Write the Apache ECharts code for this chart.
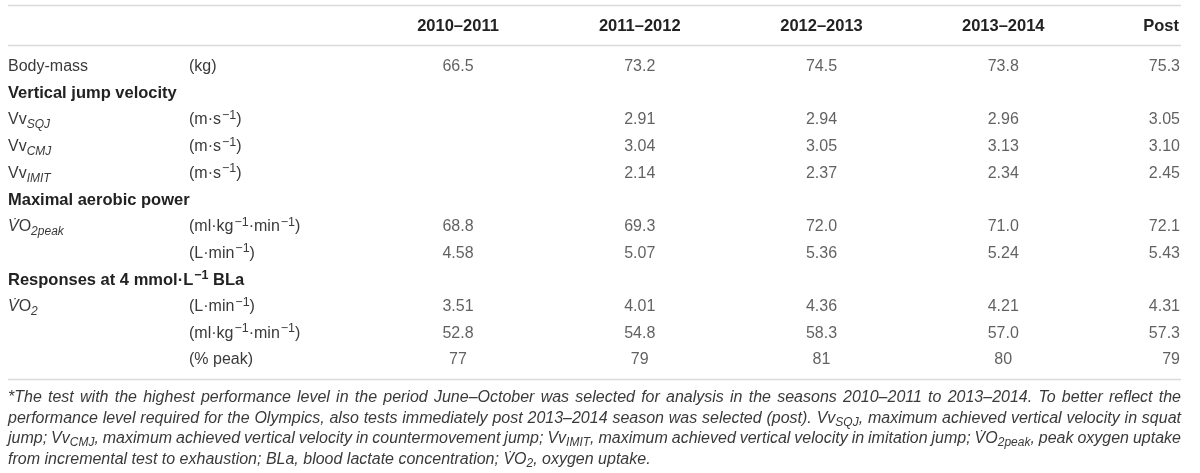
<!DOCTYPE html>
<html><head><meta charset="utf-8">
<script src="https://cdn.jsdelivr.net/npm/echarts@6/dist/echarts.min.js"></script>
<style>html,body{margin:0;padding:0;background:#fff}#c{width:1200px;height:473px}</style>
</head><body><div id="c"></div>
<script>
// ---------- data ----------
const columns = ['2010–2011', '2011–2012', '2012–2013', '2013–2014', 'Post'];
const rowKeys = ['bm', 'vjv', 'sqj', 'cmj', 'imit', 'map', 'peakRel', 'peakAbs', 'resp', 'atAbs', 'atRel', 'atPct'];
const rowLabels = [
  '{n|Body-mass}',
  '{b|Vertical jump velocity}',
  '{n|Vv}{s|SQJ}',
  '{n|Vv}{s|CMJ}',
  '{n|Vv}{s|IMIT}',
  '{b|Maximal aerobic power}',
  '{i|V\u0307}{n|O}{s|2peak}',
  '',
  '{b|Responses at 4 mmol·L}{bsup|−1}{b| BLa}',
  '{i|V\u0307}{n|O}{s|2}',
  '',
  ''
];
const rowUnits = [
  '{n|(kg)}',
  '',
  '{n|(m·s}{sup|−1}{n|)}',
  '{n|(m·s}{sup|−1}{n|)}',
  '{n|(m·s}{sup|−1}{n|)}',
  '',
  '{n|(ml·kg}{sup|−1}{n|·min}{sup|−1}{n|)}',
  '{n|(L·min}{sup|−1}{n|)}',
  '',
  '{n|(L·min}{sup|−1}{n|)}',
  '{n|(ml·kg}{sup|−1}{n|·min}{sup|−1}{n|)}',
  '{n|(% peak)}'
];
const bodyMass   = [66.5, 73.2, 74.5, 73.8, 75.3];
const vvSQJ      = [null, 2.91, 2.94, 2.96, 3.05];
const vvCMJ      = [null, 3.04, 3.05, 3.13, 3.10];
const vvIMIT     = [null, 2.14, 2.37, 2.34, 2.45];
const vo2peakRel = [68.8, 69.3, 72.0, 71.0, 72.1];
const vo2peakAbs = [4.58, 5.07, 5.36, 5.24, 5.43];
const vo2At4Abs  = [3.51, 4.01, 4.36, 4.21, 4.31];
const vo2At4Rel  = [52.8, 54.8, 58.3, 57.0, 57.3];
const vo2At4Pct  = [77, 79, 81, 80, 79];
const rowValues   = [bodyMass, null, vvSQJ, vvCMJ, vvIMIT, null, vo2peakRel, vo2peakAbs, null, vo2At4Abs, vo2At4Rel, vo2At4Pct];
const rowDecimals = [1, 0, 2, 2, 2, 0, 1, 2, 0, 2, 1, 0];
const footnoteLines = [
  '*The test with the highest performance level in the period June–October was selected for analysis in the seasons 2010–2011 to 2013–2014. To better reflect the',
  'performance level required for the Olympics, also tests immediately post 2013–2014 season was selected (post). Vv_{SQJ}, maximum achieved vertical velocity in squat',
  'jump; Vv_{CMJ}, maximum achieved vertical velocity in countermovement jump; Vv_{IMIT}, maximum achieved vertical velocity in imitation jump; V\u0307O_{2peak}, peak oxygen uptake',
  'from incremental test to exhaustion; BLa, blood lactate concentration; V\u0307O_{2}, oxygen uptake.'
];

// ---------- styles / layout ----------
const FONT = '"Liberation Sans", Arial, Helvetica, sans-serif';
const TXT = '#3a3a3a';
const BOLD = '#222';
const RULE = '#dadada';
const L_EDGE = 8, R_EDGE = 1181;
const GRID = { left: 458, right: 15, top: 66.7, bottom: 113 };

const labelRich = {
  n:    { fontSize: 16, color: TXT, fontFamily: FONT, lineHeight: 22 },
  b:    { fontSize: 16.5, color: BOLD, fontWeight: 'bold', fontFamily: FONT, lineHeight: 22 },
  i:    { fontSize: 16, color: TXT, fontStyle: 'italic', fontFamily: FONT, lineHeight: 22 },
  s:    { fontSize: 12, color: TXT, fontStyle: 'italic', fontFamily: FONT, lineHeight: 12, verticalAlign: 'bottom' },
  sup:  { fontSize: 12.5, color: TXT, fontFamily: FONT, lineHeight: 16, verticalAlign: 'top', padding: [0, 0, 0, 1] },
  bsup: { fontSize: 12.5, color: BOLD, fontWeight: 'bold', fontFamily: FONT, lineHeight: 16, verticalAlign: 'top', padding: [0, 0, 0, 1] }
};

// cells
const cellData = [];
rowValues.forEach((arr, r) => {
  if (!arr) return;
  arr.forEach((v, c) => {
    if (v === null || v === undefined) return;
    const item = { name: v.toFixed(rowDecimals[r]), value: [c, r] };
    if (c === columns.length - 1) item.label = { align: 'right', offset: [-5, 0] };
    cellData.push(item);
  });
});

// footnote (justified)
const FOOT_SIZE = 16, FOOT_SUB = 12;
const cv = document.createElement('canvas').getContext('2d');
function mw(t, size) { cv.font = 'italic normal ' + size + 'px ' + FONT; return cv.measureText(t).width; }
function parseWord(w) {
  const segs = []; const re = /_\{([^}]*)\}/g; let last = 0, m;
  while ((m = re.exec(w))) {
    if (m.index > last) segs.push({ t: w.slice(last, m.index), sub: false });
    segs.push({ t: m[1], sub: true }); last = re.lastIndex;
  }
  if (last < w.length) segs.push({ t: w.slice(last), sub: false });
  return segs;
}
const footRich = {
  f:  { fontSize: FOOT_SIZE, fontStyle: 'italic', fontFamily: FONT, fill: TXT, lineHeight: 20 },
  fs: { fontSize: FOOT_SUB, fontStyle: 'italic', fontFamily: FONT, fill: TXT, lineHeight: 12, verticalAlign: 'bottom' }
};
const graphics = [];
[5.5, 45.5, 379.5].forEach(y => graphics.push({
  type: 'line', silent: true,
  shape: { x1: L_EDGE, y1: y, x2: R_EDGE, y2: y },
  style: { stroke: RULE, lineWidth: 1.5 }
}));
footnoteLines.forEach((line, li) => {
  const y = 397.5 + li * 20.7;
  const words = line.split(' ').map(parseWord);
  const widths = words.map(segs => segs.reduce((s, g) => s + mw(g.t, g.sub ? FOOT_SUB : FOOT_SIZE), 0));
  const total = widths.reduce((a, b) => a + b, 0);
  const justify = li < footnoteLines.length - 1;
  const gap = justify ? (R_EDGE - L_EDGE - total) / (words.length - 1) : mw(' ', FOOT_SIZE);
  let x = L_EDGE;
  words.forEach((segs, wi) => {
    const txt = segs.map(g => '{' + (g.sub ? 'fs' : 'f') + '|' + g.t + '}').join('');
    graphics.push({
      type: 'text', silent: true, x: x, y: y,
      style: { text: txt, rich: footRich, fontSize: FOOT_SIZE, fontStyle: 'italic', fontFamily: FONT,
               fill: TXT, align: 'left', verticalAlign: 'middle' }
    });
    x += widths[wi] + gap;
  });
});

const chart = echarts.init(document.getElementById('c'), null, { renderer: 'canvas' });
chart.setOption({
  animation: false,
  backgroundColor: '#fff',
  grid: Object.assign({ outerBoundsMode: 'none', containLabel: false }, GRID),
  xAxis: {
    type: 'category', position: 'top', boundaryGap: false,
    data: columns.map((c, i) => i === columns.length - 1
      ? { value: c, textStyle: { align: 'right', verticalAlign: 'middle' } } : c),
    axisLine: { show: false }, axisTick: { show: false }, splitLine: { show: false },
    axisLabel: {
      interval: 0, margin: 40.7, verticalAlign: 'middle',
      fontSize: 16.5, fontWeight: 'bold', color: BOLD, fontFamily: FONT,
      formatter: (v, i) => i === columns.length - 1 ? '{p|' + v + '}' : v,
      rich: { p: { fontSize: 16.5, fontWeight: 'bold', color: BOLD, fontFamily: FONT, padding: [0, 6, 0, 0] } }
    }
  },
  yAxis: [
    {
      type: 'category', inverse: true, boundaryGap: false, data: rowKeys,
      axisLine: { show: false }, axisTick: { show: false }, splitLine: { show: false },
      axisLabel: { interval: 0, align: 'left', margin: GRID.left - L_EDGE,
                   formatter: (v, i) => rowLabels[i], rich: labelRich }
    },
    {
      type: 'category', inverse: true, boundaryGap: false, data: rowKeys, position: 'left',
      axisLine: { show: false }, axisTick: { show: false }, splitLine: { show: false },
      axisLabel: { interval: 0, align: 'left', margin: GRID.left - 189,
                   formatter: (v, i) => rowUnits[i], rich: labelRich }
    }
  ],
  series: [{
    type: 'scatter', xAxisIndex: 0, yAxisIndex: 0, silent: true,
    symbol: 'circle', symbolSize: 1, itemStyle: { color: 'rgba(255,255,255,0)' },
    data: cellData,
    label: { show: true, position: 'inside', formatter: '{b}', fontSize: 16, color: TXT, fontFamily: FONT }
  }],
  graphic: graphics
});
</script></body></html>
